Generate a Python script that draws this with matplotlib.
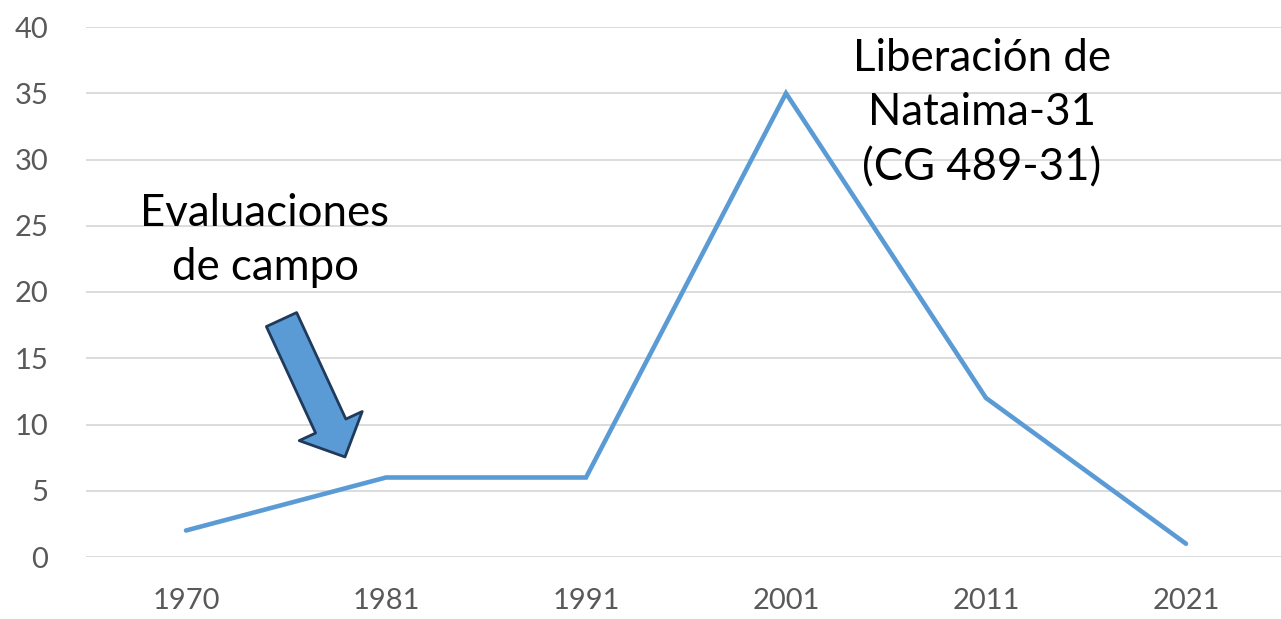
import matplotlib.pyplot as plt

# data
years = ['1970', '1981', '1991', '2001', '2011', '2021']
values = [2, 6, 6, 35, 12, 1]
yticks = [0, 5, 10, 15, 20, 25, 30, 35, 40]

W, H = 1281, 619
fig = plt.figure(figsize=(W / 100, H / 100), dpi=100)
ax = fig.add_axes([86 / W, 62 / H, 1195 / W, 530 / H])

ax.plot(range(len(years)), values, color='#5B9BD5', lw=3.3,
        solid_capstyle='round', solid_joinstyle='miter', zorder=3)

ax.set_xlim(-0.5, 5.475)
ax.set_ylim(0, 40)
ax.set_xticks(range(len(years)))
ax.set_xticklabels(years)
ax.set_yticks(yticks)
ax.yaxis.grid(True, color='#D9D9D9', lw=1.3)
ax.set_axisbelow(True)
for s in ax.spines.values():
    s.set_visible(False)
ax.tick_params(length=0, labelsize=21, labelcolor='#595959')
ax.tick_params(axis='y', pad=27)
ax.tick_params(axis='x', pad=22)
for lab in ax.get_xticklabels() + ax.get_yticklabels():
    lab.set_family('Lato')

# annotations
ax.text(0.395, 23.9, 'Evaluaciones\nde campo', ha='center', va='center',
        fontsize=31.5, family='Lato', linespacing=1.4)
ax.text(3.98, 33.5, 'Liberación de\nNataima-31\n(CG 489-31)', ha='center',
        va='center', fontsize=31.5, family='Lato', linespacing=1.42)

ax.annotate('', xy=(0.795, 7.55), xytext=(0.4775, 17.92),
            arrowprops=dict(arrowstyle='simple,head_length=24.5,head_width=50,tail_width=24',
                            mutation_scale=1, shrinkA=0, shrinkB=0,
                            fc='#5B9BD5', ec='#1F3A5A', lw=2))

fig.savefig('out.png', dpi=100)
